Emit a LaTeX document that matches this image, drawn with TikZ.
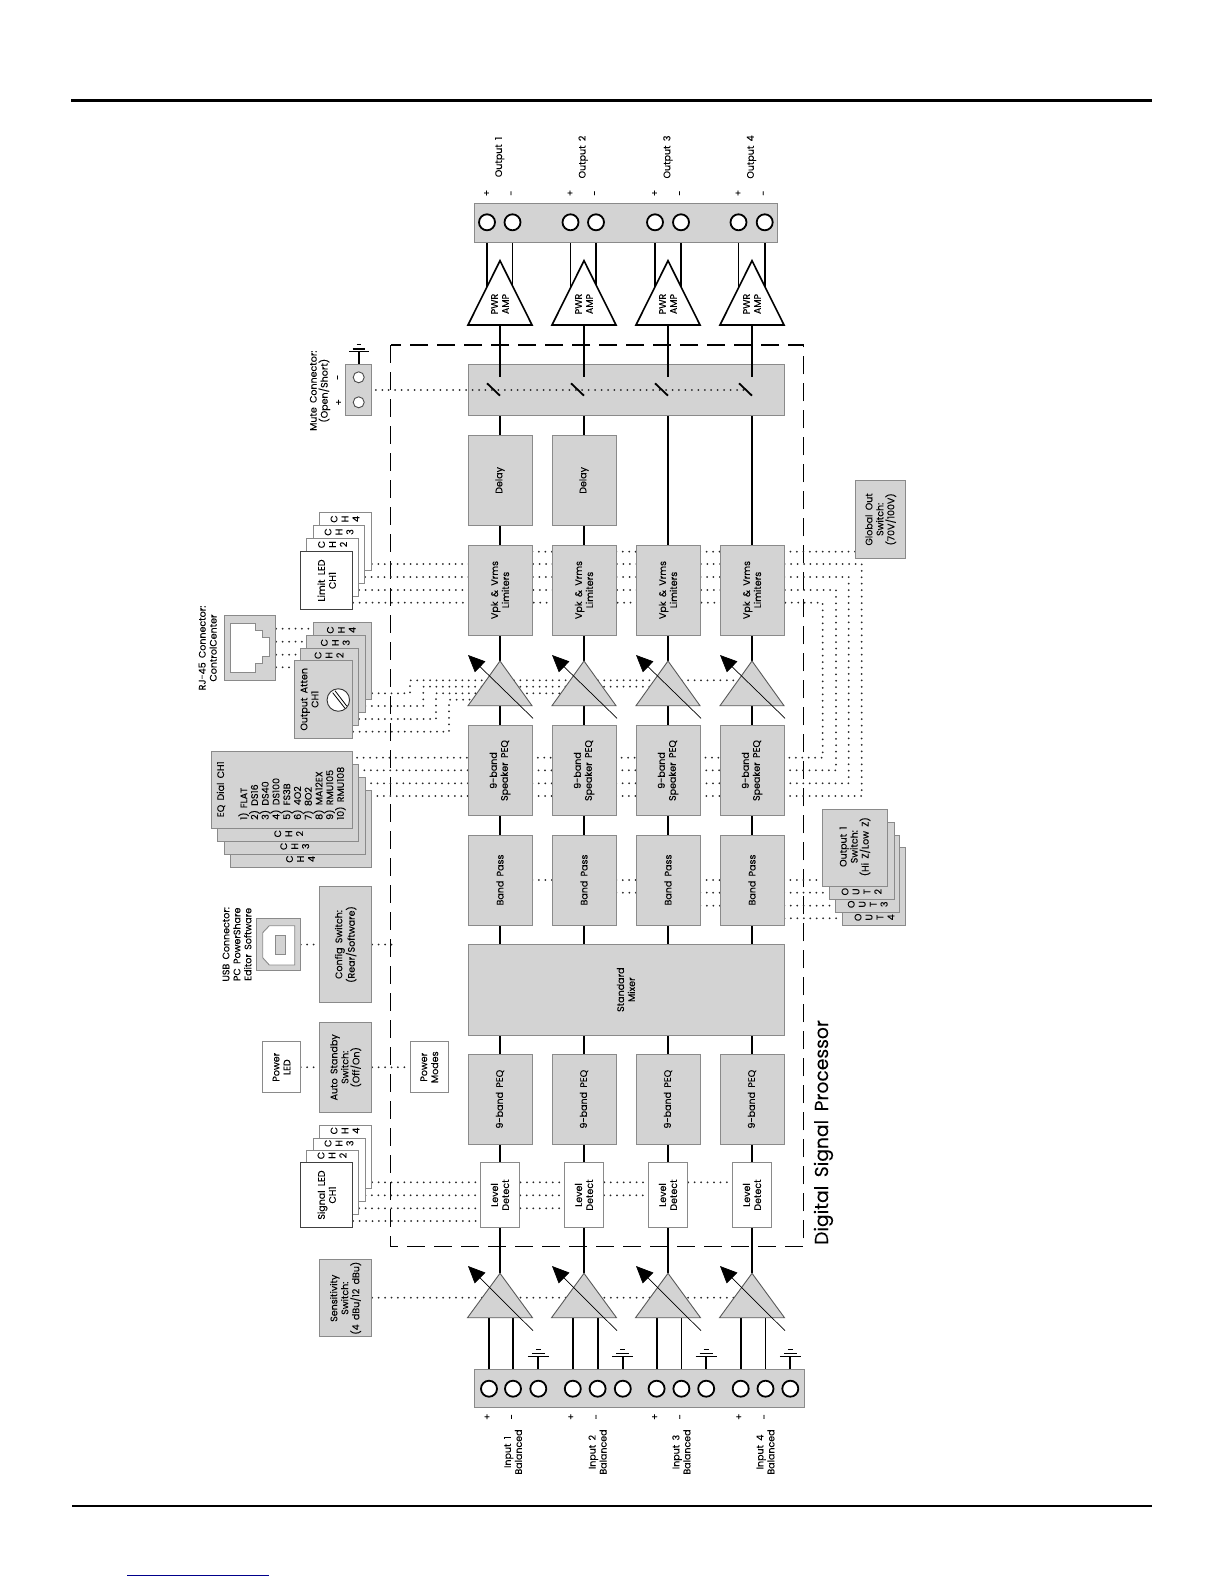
\documentclass[tikz,border=0pt]{standalone}
\usepackage{fontspec}
\setmainfont[FakeBold=0.05,WordSpace=1.7]{Poppins}
\usetikzlibrary{arrows.meta,calc}
\pgfdeclarelayer{conn}
\pgfsetlayers{conn,main}
\definecolor{boxgrey}{HTML}{D3D3D3}
\definecolor{edgegrey}{HTML}{8A8A8A}
\definecolor{linkblue}{HTML}{00008B}
\tikzset{
  gbox/.style={draw=edgegrey,line width=0.9pt,fill=boxgrey,inner sep=0pt,align=center},
  wbox/.style={draw=edgegrey,line width=0.9pt,fill=white,inner sep=0pt,align=center},
  kbox/.style={draw=black!75,line width=0.9pt,fill=white,inner sep=0pt,align=center},
  lbl/.style={rotate=90,inner sep=0pt,align=center},
  wire/.style={draw=black,line width=1.8pt},
  dots/.style={draw=black!85,line width=2pt,line cap=round,dash pattern=on 0pt off 6.45pt},
  termb/.style={circle,draw=black,line width=1.8pt,fill=white,minimum size=16pt,inner sep=0pt},
  terms/.style={circle,draw=black!70,line width=0.9pt,fill=white,minimum size=11pt,inner sep=0pt},
  gtri/.style={draw=black!65,line width=0.9pt,fill=boxgrey},
  wtri/.style={draw=black,line width=1.6pt,fill=white,line join=miter},
  knobarrow/.style={draw=black,line width=0.7pt,-{Triangle[length=17pt,width=15pt]}},
}
\newcommand{\ft}{\fontsize{9.5}{11}\selectfont}
\newcommand{\bx}[7]{%
  \pgfmathsetmacro\bxw{(#5)-(#3)}\pgfmathsetmacro\bxh{(#6)-(#4)}%
  \node[#2,rotate=90,minimum width=\bxh pt,minimum height=\bxw pt] (#1) at ({((#3)+(#5))/2},{((#4)+(#6))/2}) {#7};}
\newcommand{\txt}[4]{\node[lbl] (#1) at (#2,#3) {#4};}
\begin{document}
\begin{tikzpicture}[x=1pt,y=-1pt,font=\ft]
\useasboundingbox (0,0) rectangle (1224,1584);
% page rules
\coordinate (ruleAa) at (71,100.5); \coordinate (ruleAb) at (1152,100.5);
\coordinate (ruleBa) at (72,1505.7); \coordinate (ruleBb) at (1152,1505.7);
\coordinate (linka) at (127,1575.3); \coordinate (linkb) at (269,1575.3);
\draw[line width=2.2pt] (ruleAa) -- (ruleAb);
\draw[line width=2.2pt] (ruleBa) -- (ruleBb);
\draw[linkblue,line width=1pt] (linka) -- (linkb);

% signal blocks, per column
\foreach \c/\xc in {1/500,2/584,3/668,4/752}{
  \bx{lim\c}{gbox}{\xc-32}{545}{\xc+32}{635}{Vpk \& Vrms\\Limiters}
  \bx{speq\c}{gbox}{\xc-32}{725.3}{\xc+32}{815.7}{9-band\\Speaker PEQ}
  \bx{bp\c}{gbox}{\xc-32}{835}{\xc+32}{925}{Band Pass}
  \bx{ipeq\c}{gbox}{\xc-32}{1054}{\xc+32}{1144.3}{9-band PEQ}
  \bx{lev\c}{wbox}{\xc-19.5}{1162.7}{\xc+19.5}{1227.3}{Level\\Detect}
  % output gain triangle
  \coordinate (oga\c) at (\xc,661);
  \coordinate (ogb\c) at (\xc,705.7);
  \draw[gtri] (oga\c) -- (\xc+32,705.7) -- (\xc-32,705.7) -- cycle;
  % input gain triangle
  \coordinate (iga\c) at (\xc,1273.3);
  \coordinate (igb\c) at (\xc,1317.7);
  \draw[gtri] (iga\c) -- (\xc+32.5,1317.7) -- (\xc-32.5,1317.7) -- cycle;
  % PWR amp
  \coordinate (pa\c) at (\xc,260.7);
  \coordinate (pb\c) at (\xc,325);
  \coordinate (pm\c) at (\xc,300);
  \draw[wtri] (pa\c) -- (\xc+32,325) -- (\xc-32,325) -- cycle;
  \txt{pwr\c}{\xc}{304}{PWR\\AMP}
  % gain arrows
  \coordinate (ogt\c) at (\xc-32,655); \coordinate (ogs\c) at (\xc+33,718.3);
  \draw[knobarrow] (ogs\c) -- (ogt\c);
  \coordinate (igt\c) at (\xc-32,1266); \coordinate (igs\c) at (\xc+33,1330.7);
  \draw[knobarrow] (igs\c) -- (igt\c);
}
\bx{delay1}{gbox}{468}{435}{532}{525.7}{Delay}
\bx{delay2}{gbox}{552}{435}{616}{525.7}{Delay}
\bx{mixer}{gbox}{468}{944.3}{784}{1035}{Standard\\Mixer}
\bx{mutebar}{gbox}{468}{364.3}{784}{415.7}{}

% output bar
\bx{outbar}{gbox}{474.7}{203.3}{777}{242.3}{}
\foreach \c/\a/\b/\m in {1/487/512.5/Output 1,2/570.5/596/Output 2,3/655/681/Output 3,4/738.5/764.7/Output 4}{
  \node[termb] (op\c) at (\a,222.3) {};
  \node[termb] (on\c) at (\b,222.3) {};
  \txt{opl\c}{\a}{193}{+}
  \txt{onl\c}{\b}{193}{-}
  \txt{outl\c}{{(\a+\b)/2}}{157}{\m}
}
% input bar
\bx{inbar}{gbox}{474.5}{1369.3}{804.5}{1407.3}{}
\foreach \c/\a/\b/\g/\m in {1/489/513/538.3/Input 1,2/572.8/597.6/622.8/Input 2,3/656.6/681.4/706.2/Input 3,4/740.7/765.5/790.3/Input 4}{
  \node[termb] (ip\c) at (\a,1388.7) {};
  \node[termb] (in\c) at (\b,1388.7) {};
  \node[termb] (ig\c) at (\g,1388.7) {};
  \txt{ipl\c}{\a-1.5}{1416.7}{+}
  \txt{inl\c}{\b}{1416.7}{-}
  \txt{inpl\c}{\b}{1452}{\m\\Balanced}
  \coordinate (gnd\c) at (\g,1356.7);
  \draw[line width=1.3pt] (\g-10.5,1356.7) -- (\g+10.5,1356.7);
  \draw[line width=1.3pt] (\g-6.5,1353.5) -- (\g+6.5,1353.5);
  \draw[line width=1.3pt] (\g-2.5,1349.5) -- (\g+2.5,1349.5);
}

% Limit LED stack
\bx{lcd4}{wbox}{319}{512.7}{371.4}{570.7}{}
\txt{lcd4t}{345}{519}{C\\H\\4}
\bx{lcd3}{wbox}{313.3}{525.7}{364.7}{583.3}{}
\txt{lcd3t}{339}{532}{C\\H\\3}
\bx{lcd2}{wbox}{306.7}{538.3}{358.7}{596.3}{}
\txt{lcd2t}{332.5}{544.5}{C\\H\\2}
\bx{lcd1}{kbox}{300.7}{551.7}{352.7}{609.3}{Limit LED\\CH1}

% Output Atten stack
\bx{att4}{gbox}{313.3}{622.3}{371.7}{699.7}{}
\txt{att4t}{341.3}{630}{C\\H\\4}
\bx{att3}{gbox}{306.7}{635}{365}{712.3}{}
\txt{att3t}{335.3}{642.7}{C\\H\\3}
\bx{att2}{gbox}{300.7}{648}{358.7}{725.3}{}
\txt{att2t}{329}{655.3}{C\\H\\2}
\bx{att1}{gbox}{294.7}{660.7}{352.7}{738.3}{}
\txt{att1t}{309.5}{699.3}{Output Atten\\CH1}
\node[circle,draw=black!80,line width=0.9pt,fill=white,minimum size=22.5pt,inner sep=0pt] (knob) at (338.3,700) {};
\draw[line width=0.8pt] (332.7,692.7) -- (345,708.3);
\draw[line width=0.8pt] (335,690.7) -- (346.7,706);

% RJ-45
\bx{rj}{gbox}{224}{615.7}{275.7}{680}{}
\draw[draw=edgegrey,line width=0.9pt,fill=white] (230.7,623.3) -- (255.7,623.3) -- (255.7,630.7) -- (262.7,630.7) -- (262.7,637.3) -- (269,637.3) -- (269,656) -- (262.7,656) -- (262.7,663.3) -- (255.7,663.3) -- (255.7,672.3) -- (230.7,672.3) -- cycle;
\txt{rjt}{207.7}{648}{RJ-45 Connector:\\ControlCenter}

% EQ stack
\bx{eq4}{gbox}{230.7}{790}{371.7}{867.3}{}
\txt{eq4t}{300.5}{859}{C\\H\\4}
\bx{eq3}{gbox}{224}{777}{365}{854.3}{}
\txt{eq3t}{294.7}{846.3}{C\\H\\3}
\bx{eq2}{gbox}{217.7}{764.3}{358.7}{841.7}{}
\txt{eq2t}{288.7}{833.7}{C\\H\\2}
\bx{eq1}{gbox}{211}{751.7}{352.7}{828.3}{}
\node[rotate=90,inner sep=0pt,anchor=west] (eq1h) at (221,817.3) {EQ Dial CH1};
\node[rotate=90,inner sep=0pt,anchor=west,align=left,font=\fontsize{9.5}{10.75}\selectfont] (eq1l) at (292,820) {1) FLAT\\2) DS16\\3) DS40\\4) DS100\\5) FS3B\\6) 4O2\\7) 8O2\\8) MA12EX\\9) RMU105\\10) RMU108};

% Config, USB, standby
\bx{cfg}{gbox}{319.7}{886.7}{371.7}{1002.3}{Config Switch:\\(Rear/Software)}
\bx{usb}{gbox}{256.3}{918.7}{300.3}{970.3}{}
\draw[draw=edgegrey,line width=0.9pt,fill=white] (262.7,932.7) -- (269.3,925.7) -- (294.7,925.7) -- (294.7,965) -- (269.3,965) -- (262.7,957.7) -- cycle;
\draw[draw=edgegrey,line width=0.9pt,fill=boxgrey] (275.3,935) rectangle (285.7,954.3);
\txt{usbt}{237}{944.3}{USB Connector:\\PC PowerShare\\Editor Software}
\bx{aut}{gbox}{319.7}{1022.3}{371.7}{1112.3}{Auto Standby\\Switch:\\(Off/On)}
\bx{pled}{wbox}{262.7}{1041.7}{300.3}{1092.7}{Power\\LED}
\bx{pmod}{wbox}{410.3}{1041.7}{448.3}{1092.7}{Power\\Modes}

% Signal LED stack
\bx{sig4}{wbox}{319.7}{1125.7}{371.7}{1188.7}{}
\txt{sig4t}{345}{1130.7}{C\\H\\4}
\bx{sig3}{wbox}{313.7}{1138}{365}{1201.7}{}
\txt{sig3t}{339}{1143.3}{C\\H\\3}
\bx{sig2}{wbox}{306.7}{1150.7}{358.7}{1214.3}{}
\txt{sig2t}{332}{1155.5}{C\\H\\2}
\bx{sig1}{kbox}{300.7}{1162.7}{352.7}{1227.3}{Signal LED\\CH1}

\bx{sens}{gbox}{319.3}{1259.7}{371.7}{1336.7}{Sensitivity\\Switch:\\(4 dBu/12 dBu)}

% Global out
\bx{glob}{gbox}{855.7}{480.7}{905.7}{558}{Global Out\\Switch:\\(70V/100V)}

% Output switch stack
\bx{osw4}{gbox}{842.7}{847.7}{905.7}{925.3}{}
\txt{osw4t}{874.5}{917.3}{O\\U\\T\\4}
\bx{osw3}{gbox}{835.7}{835}{899.7}{912.3}{}
\txt{osw3t}{867.7}{904.3}{O\\U\\T\\3}
\bx{osw2}{gbox}{829.7}{822.3}{894.3}{899.3}{}
\txt{osw2t}{861.5}{891.7}{O\\U\\T\\2}
\bx{osw1}{gbox}{822.7}{809.3}{887.3}{886.7}{}
\txt{osw1t}{855}{846.7}{Output 1\\Switch:\\(Hi Z/Low Z)}

% Mute connector
\bx{mcon}{gbox}{345.3}{364.3}{371.4}{415.7}{}
\node[terms] (mneg) at (358.7,377.3) {};
\node[terms] (mpos) at (358.7,402.3) {};
\txt{mnegl}{339}{377.3}{-}
\txt{mposl}{339}{402.3}{+}
\txt{mutet}{320}{390.7}{Mute Connector:\\(Open/Short)}
\coordinate (mgnd) at (358.7,351.7);
\draw[line width=1.3pt] (349,351.7) -- (368.7,351.7);
\draw[line width=1.3pt] (352.5,349) -- (365.2,349);
\draw[line width=1.3pt] (356.5,344.8) -- (360.9,344.8);

% switches and mute control
\foreach \c/\xc in {1/500,2/584,3/668,4/752}{
  \coordinate (swa\c) at (\xc,377.3);
  \coordinate (swb\c) at (\xc,395.7);
  \coordinate (swt\c) at (\xc-13,383.3);
  \draw[wire] (swb\c) -- (swt\c);
  \draw[wire] (pb\c) -- (swa\c);
}
\coordinate (muteend) at (747,390);
\draw[dots] (375.8,390) -- (muteend);

% title
\node[rotate=90,inner sep=0pt,anchor=base west,font=\fontsize{18.7}{20}\selectfont] (dsp) at (828,1245) {Digital Signal Processor};

\begin{pgfonlayer}{conn}
  % DSP dashed frame
  \coordinate (fa) at (390.7,345); \coordinate (fb) at (803.7,1246.7);
  \draw[line width=1.1pt,dash pattern=on 18pt off 9pt] (fa) rectangle (fb);

  % signal wires
  \foreach \c/\xc in {1/500,2/584,3/668,4/752}{
    \draw[wire] (lev\c.east) -- (ipeq\c.west);
    \draw[wire] (iga\c) -- (lev\c.west);
    \draw[wire] (ipeq\c.east) -- (ipeq\c.east |- mixer.west);
    \draw[wire] (bp\c.west) -- (bp\c.west |- mixer.east);
    \draw[wire] (speq\c.west) -- (bp\c.east);
    \draw[wire] (ogb\c) -- (speq\c.east);
    \draw[wire] (lim\c.west) -- (oga\c);
  }
  \draw[wire] (lim1.east) -- (delay1.west);
  \draw[wire] (lim2.east) -- (delay2.west);
  \draw[wire] (delay1.east) -- (swb1);
  \draw[wire] (delay2.east) -- (swb2);
  \draw[wire] (lim3.east) -- (swb3);
  \draw[wire] (lim4.east) -- (swb4);
  % output terminals
  \foreach \c in {1,2,3,4}{
    \draw[wire] (op\c) -- (op\c |- pm\c);
    \draw[wire] (on\c) -- (on\c |- pm\c);
    \draw[wire] (ip\c) -- (ip\c |- igb\c);
    \draw[wire] (in\c) -- (in\c |- igb\c);
    \draw[wire] (ig\c) -- (gnd\c);
  }
  \draw[wire] (mneg) -- (mgnd);

  % limit rows
  \draw[dots] (lim1.south |- 0,551.7) -- (glob.north |- 0,551.7);
  \draw[dots] (lcd4.south |- 0,564) -- (861.7,564) -- (861.7,796) -- (eq4.south |- 0,796);
  \draw[dots] (lcd3.south |- 0,577) -- (848.7,577) -- (848.7,783.3) -- (eq3.south |- 0,783.3);
  \draw[dots] (lcd2.south |- 0,590) -- (836,590) -- (836,770.3) -- (eq2.south |- 0,770.3);
  \draw[dots] (lcd1.south |- 0,602.7) -- (822.7,602.7) -- (822.7,757.7) -- (eq1.south |- 0,757.7);
  % RJ-45 rows
  \draw[dots] (rj.south |- 0,628.7) -- (att4.north |- 0,628.7);
  \draw[dots] (rj.south |- 0,641.7) -- (att3.north |- 0,641.7);
  \draw[dots] (rj.south |- 0,654.7) -- (att2.north |- 0,654.7);
  \draw[dots] (rj.south |- 0,667.3) -- (att1.north |- 0,667.3);
  % attenuator rows
  \draw[dots] (att4.south |- 0,693.3) -- (410,693.3) -- (410,680.3) -- (oga4 |- 0,680.3);
  \draw[dots] (att3.south |- 0,706) -- (423.3,706) -- (423.3,686.7) -- (oga3 |- 0,686.7);
  \draw[dots] (att2.south |- 0,719) -- (436,719) -- (436,693.3) -- (oga2 |- 0,693.3);
  \draw[dots] (att1.south |- 0,731.7) -- (449,731.7) -- (449,699.7) -- (oga1 |- 0,699.7);
  % band pass rows
  \draw[dots] (bp1.south |- 0,880) -- (osw1.north |- 0,880);
  \draw[dots] (bp2.south |- 0,892.7) -- (osw2.north |- 0,892.7);
  \draw[dots] (bp3.south |- 0,905.7) -- (osw3.north |- 0,905.7);
  \draw[dots] (bp4.south |- 0,918.3) -- (osw4.north |- 0,918.3);
  % config, standby
  \draw[dots] (usb.south |- cfg) -- (cfg.north);
  \draw[dots] (cfg.south) -- ($(cfg.south)+(20,0)$);
  \draw[dots] (pled.south) -- (aut.north);
  \draw[dots] (aut.south) -- (pmod.north);
  % signal LED rows
  \draw[dots] (sig4.south |- 0,1182.3) -- (lev4.north |- 0,1182.3);
  \draw[dots] (sig3.south |- 0,1195.3) -- (lev3.north |- 0,1195.3);
  \draw[dots] (sig2.south |- 0,1208.3) -- (lev2.north |- 0,1208.3);
  \draw[dots] (sig1.south |- 0,1221) -- (lev1.north |- 0,1221);
  % sensitivity
  \draw[dots] (sens.south |- 0,1297.7) -- (igb4 |- 0,1297.7);
\end{pgfonlayer}
\end{tikzpicture}
\end{document}
